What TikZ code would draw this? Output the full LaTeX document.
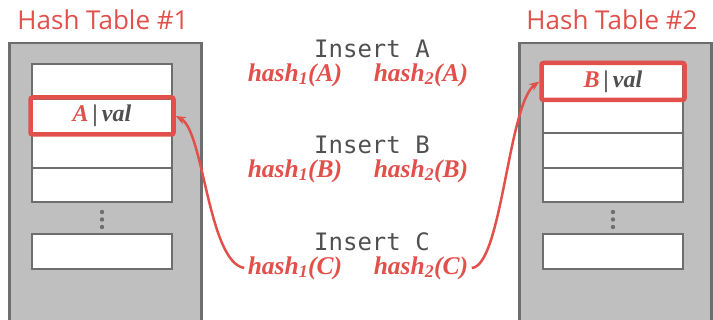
\documentclass[tikz,border=0pt]{standalone}
\usepackage{fontspec}
\setsansfont{Open Sans}
\setmonofont{DejaVu Sans Mono}
\newfontfamily\hashfont{Liberation Serif}
\usetikzlibrary{positioning,arrows.meta}
\definecolor{hashred}{RGB}{225,80,75}
\definecolor{boxgray}{RGB}{191,191,191}
\definecolor{boxline}{RGB}{110,110,110}
\definecolor{textgray}{RGB}{80,80,80}
\newcommand{\hfn}[2]{hash\textsubscript{#1}(#2)}
\newcommand{\kv}[1]{\textcolor{hashred}{#1}\,|\,val}

\begin{document}
\begin{tikzpicture}[x=1pt,y=-1pt,
    title/.style={font=\sffamily\fontsize{26}{30}\selectfont, text=hashred},
    table box/.style={draw=boxline, fill=boxgray, line width=2.5pt, anchor=north west,
                      minimum width=192pt, minimum height=300pt},
    slot/.style={draw=boxline, fill=white, line width=2pt, minimum width=140pt,
                 minimum height=34.5pt, inner sep=0pt, outer sep=0pt},
    hit/.style={draw=hashred, line width=4.5pt, rounded corners=2pt, minimum width=143pt,
                minimum height=37pt, inner sep=0pt, text=textgray,
                font=\hashfont\bfseries\itshape\fontsize{24}{26}\selectfont},
    op/.style={font=\ttfamily\fontsize{24}{26}\selectfont, text=textgray},
    hash fn/.style={font=\hashfont\bfseries\itshape\fontsize{25.5}{28}\selectfont, text=hashred},
    link/.style={draw=hashred, line width=2.5pt, -{Stealth[length=10pt,width=8pt]}}]

    \clip (0,0) rectangle (713,320);

    % Titles
    \node[title] (title1) at (103,20) {Hash Table \#1};
    \node[title] (title2) at (612,20) {Hash Table \#2};

    % Table 1
    \node[table box] (tbl1) at (8,42) {};
    \node[slot] (l1) at (102,81.5) {};
    \node[slot, below=0pt of l1] (l2) {};
    \node[slot, below=0pt of l2] (l3) {};
    \node[slot, below=0pt of l3] (l4) {};
    \node[slot] (l5) at (102,251.5) {};
    \node[hit] (hitA) at (l2) {\kv{A}};

    % Table 2
    \node[table box] (tbl2) at (518,42) {};
    \node[slot] (r1) at (613,81.5) {};
    \node[slot, below=0pt of r1] (r2) {};
    \node[slot, below=0pt of r2] (r3) {};
    \node[slot, below=0pt of r3] (r4) {};
    \node[slot] (r5) at (613,251.5) {};
    \node[hit] (hitB) at (r1) {\kv{B}};

    \foreach \x in {102,613}
        \foreach \y in {212,219.5,227}
            \fill[boxline] (\x,\y) circle (2.2pt);

    % Operations
    \node[op] (insA) at (372,49) {Insert A};
    \node[hash fn] (h1a) at (295,75) {\hfn{1}{A}};
    \node[hash fn] (h2a) at (421,75) {\hfn{2}{A}};
    \node[op] (insB) at (372,145) {Insert B};
    \node[hash fn] (h1b) at (295,171) {\hfn{1}{B}};
    \node[hash fn] (h2b) at (421,171) {\hfn{2}{B}};
    \node[op] (insC) at (372,242) {Insert C};
    \node[hash fn] (h1c) at (295,268) {\hfn{1}{C}};
    \node[hash fn] (h2c) at (421,268) {\hfn{2}{C}};

    % Links
    \draw[link] (h1c.west) .. controls +(-36,-6) and +(28,15) .. (hitA.east);
    \draw[link] (h2c.east) .. controls +(30,-2) and +(-31,23) .. (hitB.west);

\end{tikzpicture}
\end{document}
